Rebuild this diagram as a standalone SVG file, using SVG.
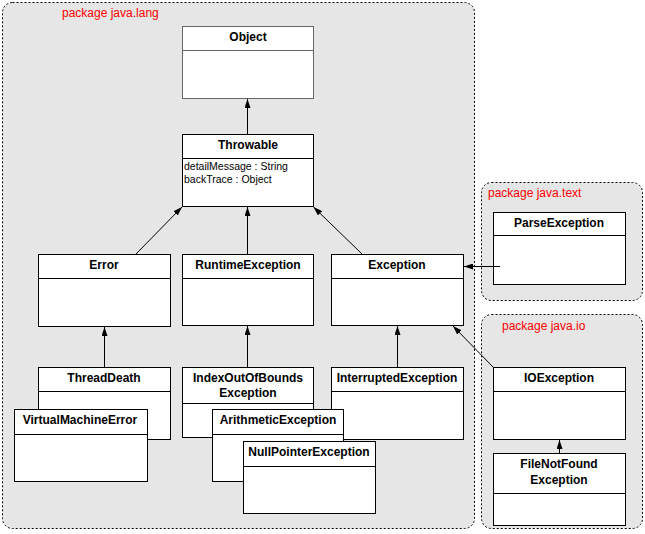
<svg xmlns="http://www.w3.org/2000/svg" width="645" height="534" viewBox="0 0 645 534">
<style>
.pkg{fill:#e6e6e6;stroke:#000;stroke-width:1;stroke-dasharray:2,2}
.pl{font-family:"Liberation Sans",Arial,sans-serif;font-size:12px;fill:#ff0000}
.box{fill:#fff;stroke:#000;stroke-width:1}
.t{font-family:"Liberation Sans",Arial,sans-serif;font-size:12px;font-weight:bold;fill:#000;text-anchor:middle}
.a{font-family:"Liberation Sans",Arial,sans-serif;font-size:10.5px;fill:#000}
.c{stroke:#000;stroke-width:1;fill:none;marker-end:url(#arr)}
</style>
<defs>
<marker id="arr" markerWidth="9" markerHeight="6" refX="9" refY="3" orient="auto" markerUnits="userSpaceOnUse"><path d="M0,0 L9,3 L0,6 z" fill="#000"/></marker>
</defs>
<g id="pkg-lang"><rect class="pkg" x="2.5" y="2.5" width="472" height="526" rx="10"/><text class="pl" x="62" y="17">package java.lang</text></g>
<g id="pkg-text"><rect class="pkg" x="481.5" y="182.5" width="161" height="118" rx="10"/><text class="pl" x="488" y="197">package java.text</text></g>
<g id="pkg-io"><rect class="pkg" x="481.5" y="314.5" width="161" height="214" rx="10"/><text class="pl" x="502" y="330">package java.io</text></g>

<g id="Object"><rect class="box" x="182.5" y="26.5" width="131" height="72" style="stroke:#666"/><line x1="182.5" y1="50.5" x2="313.5" y2="50.5" stroke="#666"/><text class="t" x="248" y="40.5">Object</text></g>
<g id="Throwable"><rect class="box" x="182.5" y="134.5" width="131" height="72"/><line x1="182.5" y1="158.5" x2="313.5" y2="158.5" stroke="#000"/><text class="t" x="248" y="149">Throwable</text><text class="a" x="184" y="170">detailMessage : String</text><text class="a" x="184" y="183">backTrace : Object</text></g>
<g id="Error"><rect class="box" x="38.5" y="254.5" width="132" height="72"/><line x1="38.5" y1="278.5" x2="170.5" y2="278.5" stroke="#000"/><text class="t" x="104" y="269">Error</text></g>
<g id="RuntimeException"><rect class="box" x="182.5" y="254.5" width="131" height="71"/><line x1="182.5" y1="278.5" x2="313.5" y2="278.5" stroke="#000"/><text class="t" x="248" y="269">RuntimeException</text></g>
<g id="Exception"><rect class="box" x="331.5" y="254.5" width="132" height="71"/><line x1="331.5" y1="278.5" x2="463.5" y2="278.5" stroke="#000"/><text class="t" x="397" y="269">Exception</text></g>
<g id="ParseException"><rect class="box" x="493.5" y="212.5" width="132" height="72"/><line x1="493.5" y1="235.5" x2="625.5" y2="235.5" stroke="#000"/><text class="t" x="559" y="227">ParseException</text></g>
<g id="InterruptedException"><rect class="box" x="331.5" y="367.5" width="132" height="72"/><line x1="331.5" y1="391.5" x2="463.5" y2="391.5" stroke="#000"/><text class="t" x="397" y="382">InterruptedException</text></g>
<g id="ThreadDeath"><rect class="box" x="38.5" y="367.5" width="132" height="72"/><line x1="38.5" y1="391.5" x2="170.5" y2="391.5" stroke="#000"/><text class="t" x="104" y="382">ThreadDeath</text></g>
<g id="VirtualMachineError"><rect class="box" x="14.5" y="409.5" width="133" height="72"/><line x1="14.5" y1="434.5" x2="147.5" y2="434.5" stroke="#000"/><text class="t" x="80" y="424">VirtualMachineError</text></g>
<g id="IndexOutOfBoundsException"><rect class="box" x="182.5" y="367.5" width="131" height="70"/><line x1="182.5" y1="403.5" x2="313.5" y2="403.5" stroke="#000"/><text class="t" x="248" y="382">IndexOutOfBounds</text><text class="t" x="248" y="397">Exception</text></g>
<g id="ArithmeticException"><rect class="box" x="212.5" y="409.5" width="131" height="72"/><line x1="212.5" y1="434.5" x2="343.5" y2="434.5" stroke="#000"/><text class="t" x="278" y="424">ArithmeticException</text></g>
<g id="NullPointerException"><rect class="box" x="243.5" y="441.5" width="132" height="72"/><line x1="243.5" y1="466.5" x2="375.5" y2="466.5" stroke="#000"/><text class="t" x="309" y="456">NullPointerException</text></g>
<g id="IOException"><rect class="box" x="493.5" y="367.5" width="132" height="72"/><line x1="493.5" y1="391.5" x2="625.5" y2="391.5" stroke="#000"/><text class="t" x="559" y="382">IOException</text></g>
<g id="FileNotFoundException"><rect class="box" x="493.5" y="453.5" width="132" height="72"/><line x1="493.5" y1="493.5" x2="625.5" y2="493.5" stroke="#000"/><text class="t" x="559" y="468">FileNotFound</text><text class="t" x="559" y="484">Exception</text></g>

<g id="connectors">
<line class="c" x1="247.5" y1="134" x2="247.5" y2="99"/>
<line class="c" x1="136" y1="254" x2="182" y2="207"/>
<line class="c" x1="247.5" y1="254" x2="247.5" y2="207"/>
<line class="c" x1="362" y1="254" x2="313.5" y2="207"/>
<line class="c" x1="500" y1="266.5" x2="464" y2="266.5"/>
<line class="c" x1="104.5" y1="367" x2="104.5" y2="327"/>
<line class="c" x1="247.5" y1="367" x2="247.5" y2="326"/>
<line class="c" x1="397.5" y1="367" x2="397.5" y2="326"/>
<line class="c" x1="493" y1="367" x2="453" y2="326"/>
<line class="c" x1="559.5" y1="453" x2="559.5" y2="440"/>
</g>
</svg>
